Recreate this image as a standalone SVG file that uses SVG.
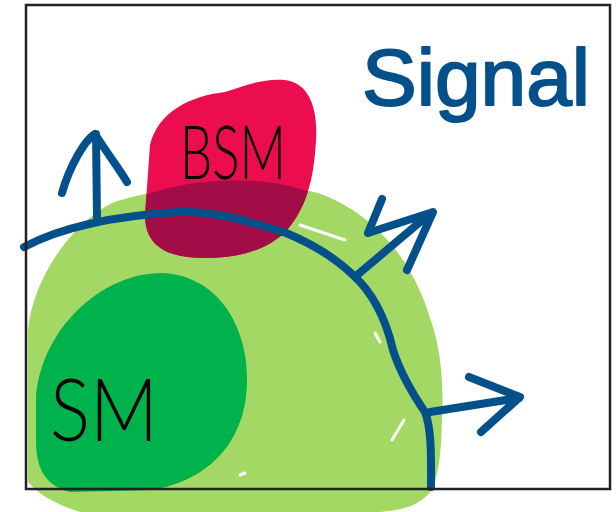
<svg xmlns="http://www.w3.org/2000/svg" width="616" height="512" viewBox="0 0 616 512">
  <defs>
    <style>
      .ink { fill: none; stroke: #03508b; stroke-width: 8; stroke-linecap: round; stroke-linejoin: round; }
      .hand { font-family: "Liberation Sans", "DejaVu Sans", sans-serif; }
      .label { font-family: "Lato", "Open Sans", "Liberation Sans", sans-serif; font-weight: 300; fill: #000; }
      .gap { fill: none; stroke: #fff; stroke-width: 3; stroke-linecap: round; }
    </style>
    <clipPath id="bsmClip">
      <path d="M 150,145 C 158,112 190,96 225,92 C 245,86 262,78 285,80 C 310,83 318,110 316,140 C 314,180 306,208 287,230 C 268,250 240,258 205,258 C 165,258 145,245 145,215 Z"/>
    </clipPath>
  </defs>

  <rect width="616" height="512" fill="#fff"/>

  <!-- broad light-green region -->
  <g id="region-wide">
    <path fill="#a4d865" d="M 28,330 C 32,285 65,228 112,203 C 165,185 255,178 318,193 C 372,212 412,258 430,318 C 440,345 444,380 442,420 C 441,450 440,470 432,490 C 420,505 405,510 380,512 L 80,512 C 58,505 40,496 28,482 Z"/>
    <path class="gap" d="M 300,225 L 345,240"/>
    <path class="gap" d="M 375,333 L 380,342"/>
    <path class="gap" d="M 392,440 L 404,420"/>
    <path class="gap" d="M 230,425 L 238,423"/>
    <path class="gap" d="M 240,475 L 245,473"/>
  </g>

  <!-- SM region -->
  <g id="node-sm">
    <path fill="#00b24b" d="M 36,395 C 42,330 100,273 162,273 C 215,275 247,322 247,380 C 247,440 210,480 152,490 L 70,492 C 46,486 36,470 36,440 Z"/>
    <text class="label" x="50" y="441" font-size="86" textLength="108" lengthAdjust="spacingAndGlyphs">SM</text>
  </g>

  <!-- BSM region -->
  <g id="node-bsm">
    <path fill="#ec0d4f" d="M 150,145 C 158,112 190,96 225,92 C 245,86 262,78 285,80 C 310,83 318,110 316,140 C 314,180 306,208 287,230 C 268,250 240,258 205,258 C 165,258 145,245 145,215 Z"/>
    <path fill="#a20d48" clip-path="url(#bsmClip)" d="M 140,197 C 180,180 260,172 312,193 L 330,270 L 130,270 Z"/>
    <text class="label" x="180" y="179" font-size="74" textLength="106" lengthAdjust="spacingAndGlyphs">BSM</text>
  </g>

  <!-- signal boundary and arrows -->
  <g id="connectors">
    <path class="ink" d="M 24,247 C 60,228 110,216 179,212 C 215,211 245,220 286,233 C 315,245 335,258 352,274 C 370,290 385,315 393,350 C 400,372 410,390 425,412 C 432,430 431,460 431,487"/>
    <path class="ink" d="M 97,218 L 96,134 M 62,193 C 70,165 85,140 95,134 C 105,150 120,170 127,182"/>
    <path class="ink" d="M 356,276 L 426,217 M 382,199 L 368,233 L 433,212 L 407,270"/>
    <path class="ink" d="M 430,412 L 519,398 M 469,377 L 520,397 L 481,432"/>
  </g>

  <g id="title">
    <text class="hand" x="362" y="105" font-size="80" fill="#03508b" stroke="#03508b" stroke-width="2" stroke-linejoin="round" textLength="228" lengthAdjust="spacingAndGlyphs">Signal</text>
  </g>

  <!-- frame -->
  <rect x="26" y="5" width="584" height="484" fill="none" stroke="#222" stroke-width="2.5"/>
</svg>
